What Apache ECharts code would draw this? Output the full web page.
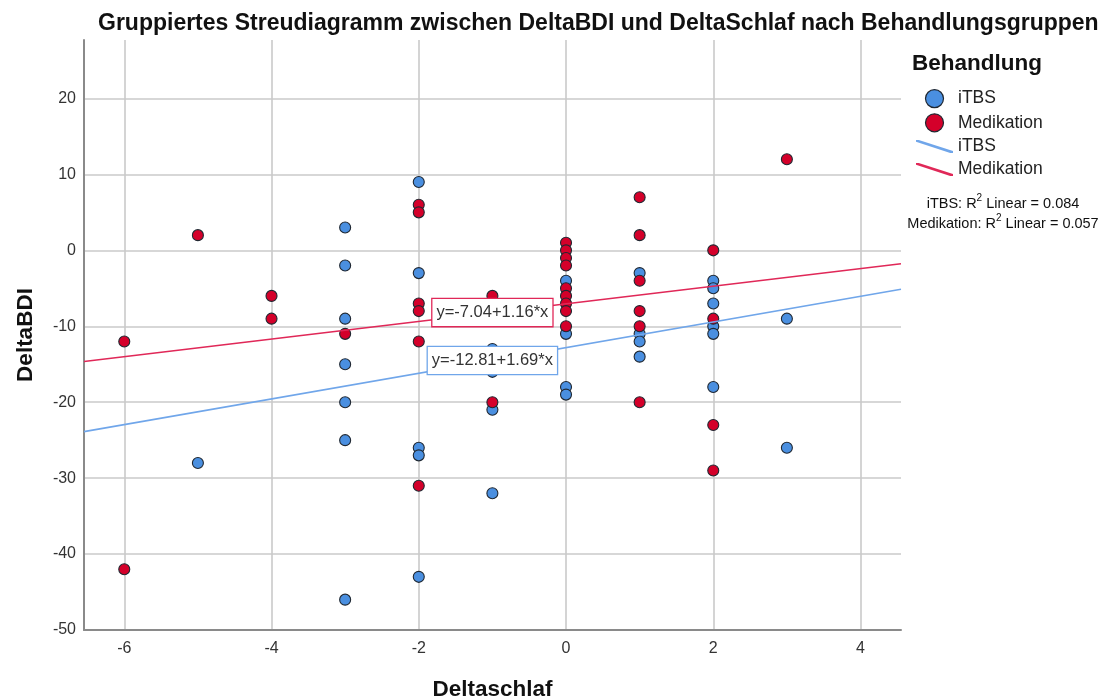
<!DOCTYPE html>
<html>
<head>
<meta charset="utf-8">
<title>Gruppiertes Streudiagramm</title>
<script src="https://cdn.jsdelivr.net/npm/echarts@6/dist/echarts.min.js"></script>
<style>
  html, body { margin: 0; padding: 0; background: #ffffff; }
  #chart { width: 1113px; height: 699px; }
</style>
</head>
<body>
<div id="chart"></div>
<script>
// Gruppe iTBS: DeltaSchlaf (x) und DeltaBDI (y)
const itbsX = [-5, -3, -3, -3, -3, -3, -3, -3, -2, -2, -2, -2, -2, -1, -1, -1, -1,
               0, 0, 0, 0, 1, 1, 1, 1, 2, 2, 2, 2, 2, 2, 3, 3];
const itbsY = [-28, 3, -2, -9, -15, -20, -25, -46, 9, -3, -26, -27, -43, -13, -16, -21, -32,
               -4, -11, -18, -19, -3, -11, -12, -14, -4, -5, -7, -10, -11, -18, -9, -26];

// Gruppe Medikation: DeltaSchlaf (x) und DeltaBDI (y)
const medX = [-6, -6, -5, -4, -4, -3, -2, -2, -2, -2, -2, -2, -1, -1,
              0, 0, 0, 0, 0, 0, 0, 0, 0, 1, 1, 1, 1, 1, 1, 2, 2, 2, 2, 3];
const medY = [-12, -42, 2, -6, -9, -11, 6, 5, -7, -8, -12, -31, -6, -20,
              1, 0, -1, -2, -5, -6, -7, -8, -10, 7, 2, -4, -8, -10, -20, 0, -9, -23, -29, 12];

// Lineare Anpassung je Gruppe: y = a + b*x, mit R²
const groupNames = ['iTBS', 'Medikation'];
const intercepts = [-12.81, -7.04];
const slopes = [1.69, 1.16];
const rSquared = [0.084, 0.057];

// Achsenbereich
const xMin = -6.547, xMax = 4.55;
const yMin = -50, yMax = 27.7;

const FONT = '"Liberation Sans", Arial, sans-serif';
const pointColors = ['#4a8fe0', '#d4002a'];
const lineColors = ['#70a6ea', '#e02858'];
const pointBorder = '#1f2731';
const labelAtX = -1;

const fit = (g, x) => intercepts[g] + slopes[g] * x;
const eqText = g => 'y=' + intercepts[g].toFixed(2) + '+' + slopes[g].toFixed(2) + '*x';
const pairs = (xs, ys) => xs.map((x, i) => [x, ys[i]]);

const scatterSeries = [pairs(itbsX, itbsY), pairs(medX, medY)].map((d, g) => ({
  name: groupNames[g],
  type: 'scatter',
  data: d,
  symbol: 'circle',
  symbolSize: 11,
  z: 2,
  itemStyle: { color: pointColors[g], borderColor: pointBorder, borderWidth: 1.1, opacity: 1 },
  emphasis: { disabled: true }
}));

const fitSeries = groupNames.map((n, g) => ({
  name: n + ' Linear',
  type: 'line',
  data: [[xMin, fit(g, xMin)], [xMax, fit(g, xMax)]],
  symbol: 'none',
  z: 5,
  color: lineColors[g],
  lineStyle: { color: lineColors[g], width: 1.6 },
  emphasis: { disabled: true }
}));

// Gleichungsfelder auf den Anpassungslinien
const equationSeries = groupNames.map((n, g) => ({
  name: n + ' Gleichung',
  type: 'scatter',
  data: [[labelAtX, fit(g, labelAtX)]],
  symbol: 'circle',
  symbolSize: 1,
  z: 20,
  silent: true,
  itemStyle: { color: 'rgba(0,0,0,0)', opacity: 1 },
  label: {
    show: true,
    position: 'inside',
    formatter: () => eqText(g),
    fontFamily: FONT,
    fontSize: 16.5,
    color: '#333333',
    opacity: 1,
    backgroundColor: '#ffffff',
    borderColor: lineColors[g],
    borderWidth: 1.3,
    padding: [6, 4, 4, 4]
  },
  emphasis: { disabled: true }
}));

const lineIcon = 'path://M0,0 L3,0 L40,12 L40,14 L37,14 L0,2 Z';

const chart = echarts.init(document.getElementById('chart'), null, { renderer: 'canvas' });
chart.setOption({
  animation: false,
  backgroundColor: '#ffffff',
  title: {
    text: 'Gruppiertes Streudiagramm zwischen DeltaBDI und DeltaSchlaf nach Behandlungsgruppen',
    left: 93,
    top: 7,
    textStyle: { fontFamily: FONT, fontSize: 23, fontWeight: 'bold', color: '#111111' }
  },
  grid: { left: 84, right: 212, top: 40, bottom: 69, containLabel: false, outerBoundsMode: 'none' },
  xAxis: {
    type: 'value',
    min: xMin,
    max: xMax,
    name: 'Deltaschlaf',
    nameLocation: 'middle',
    nameGap: 48,
    nameTextStyle: { fontFamily: FONT, fontSize: 22.5, fontWeight: 'bold', color: '#111111' },
    axisLine: { show: true, onZero: false, lineStyle: { color: '#8a8a8a', width: 2 } },
    axisTick: { show: false },
    axisLabel: { fontFamily: FONT, fontSize: 16, color: '#333333', margin: 11, showMinLabel: false, showMaxLabel: false },
    splitLine: { show: true, showMinLine: false, showMaxLine: false, lineStyle: { color: '#cacaca', width: 1.6 } }
  },
  yAxis: {
    type: 'value',
    min: yMin,
    max: yMax,
    interval: 10,
    name: 'DeltaBDI',
    nameLocation: 'middle',
    nameGap: 47,
    nameTextStyle: { fontFamily: FONT, fontSize: 22.5, fontWeight: 'bold', color: '#111111' },
    axisLine: { show: true, onZero: false, lineStyle: { color: '#8a8a8a', width: 2 } },
    axisTick: { show: false },
    axisLabel: { fontFamily: FONT, fontSize: 16, color: '#333333', margin: 8, showMinLabel: true, showMaxLabel: false },
    splitLine: { show: true, showMinLine: false, showMaxLine: false, lineStyle: { color: '#cacaca', width: 1.6 } }
  },
  legend: {
    orient: 'vertical',
    left: 911,
    top: 84,
    itemWidth: 37,
    itemHeight: 18,
    itemGap: 5,
    selectedMode: false,
    textStyle: { fontFamily: FONT, fontSize: 17.5, color: '#222222' },
    formatter: n => n.replace(' Linear', ''),
    data: [
      { name: 'iTBS', icon: 'circle', itemStyle: { color: pointColors[0], borderColor: pointBorder, borderWidth: 1.2 } },
      { name: 'Medikation', icon: 'circle', itemStyle: { color: pointColors[1], borderColor: pointBorder, borderWidth: 1.2 } },
      { name: 'iTBS Linear', icon: lineIcon, itemStyle: { color: lineColors[0], borderWidth: 0 } },
      { name: 'Medikation Linear', icon: lineIcon, itemStyle: { color: lineColors[1], borderWidth: 0 } }
    ]
  },
  graphic: [
    {
      type: 'text',
      left: 912,
      top: 52,
      silent: true,
      style: { text: 'Behandlung', fontFamily: FONT, fontSize: 22.5, fontWeight: 'bold', fill: '#111111' }
    }
  ].concat(groupNames.map((n, g) => ({
    type: 'text',
    x: 1003,
    y: 202 + g * 20,
    silent: true,
    style: {
      text: '{n|' + n + ': R}{s|2}{n| Linear = ' + rSquared[g].toFixed(3) + '}',
      align: 'center',
      verticalAlign: 'middle',
      rich: {
        n: { fontFamily: FONT, fontSize: 14.5, fill: '#111111', verticalAlign: 'bottom', lineHeight: 18 },
        s: { fontFamily: FONT, fontSize: 10, fill: '#111111', verticalAlign: 'top', lineHeight: 18 }
      }
    }
  }))),
  series: scatterSeries.concat(fitSeries, equationSeries)
});
</script>
</body>
</html>
